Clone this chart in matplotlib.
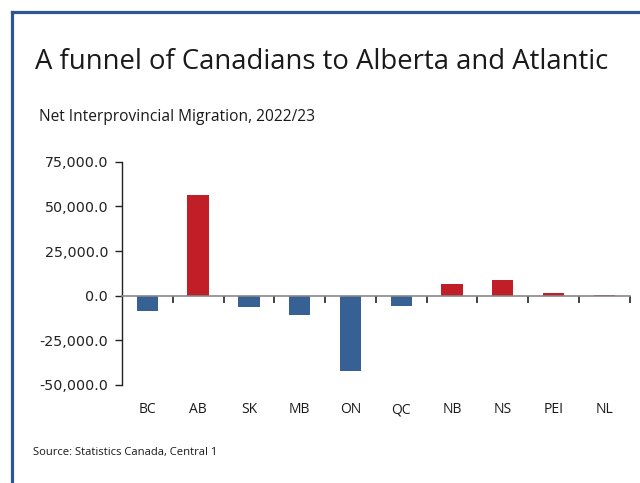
import matplotlib
matplotlib.use("Agg")
import matplotlib.pyplot as plt
from matplotlib.lines import Line2D

# Net interprovincial migration by province, 2022/23
provinces = ["BC", "AB", "SK", "MB", "ON", "QC", "NB", "NS", "PEI", "NL"]
net_migration = [-8400, 56300, -6600, -10700, -42200, -6000, 6800, 8500, 1500, 400]
y_ticks = [-50000, -25000, 0, 25000, 50000, 75000]

BLUE = "#376194"
RED = "#C01F28"
FRAME = "#2F5592"

fig = plt.figure(figsize=(6.4, 4.83), dpi=100)

# Frame lines on the top and left edges
fig.add_artist(Line2D([0.0195, 0.0195], [0, 0.9755], transform=fig.transFigure,
                      color=FRAME, lw=2.3, solid_capstyle="projecting"))
fig.add_artist(Line2D([0.0195, 1.0], [0.9755, 0.9755], transform=fig.transFigure,
                      color=FRAME, lw=2.3, solid_capstyle="projecting"))

fig.text(0.054, 0.872, "A funnel of Canadians to Alberta and Atlantic",
         fontsize=19.8, family="Open Sans", color="#1a1a1a", va="center", ha="left")
fig.text(0.061, 0.757, "Net Interprovincial Migration, 2022/23",
         fontsize=11.2, family="Open Sans", color="#1a1a1a", va="center", ha="left")
fig.text(0.052, 0.064, "Source: Statistics Canada, Central 1",
         fontsize=8.1, family="Open Sans", color="#1a1a1a", va="center", ha="left")

ax = fig.add_axes([0.1906, 0.2029, 0.7934, 0.4623])

x = list(range(len(provinces)))
colors = [RED if v > 0 else BLUE for v in net_migration]
ax.bar(x, net_migration, width=0.42, color=colors, zorder=2)

ax.set_xlim(-0.5, len(provinces) - 0.5)
ax.set_ylim(-50000, 75000)

ax.spines["top"].set_visible(False)
ax.spines["right"].set_visible(False)
ax.spines["left"].set_color("#222222")
ax.spines["left"].set_linewidth(1.0)
ax.spines["bottom"].set_position(("data", 0))
ax.spines["bottom"].set_color("#888888")
ax.spines["bottom"].set_linewidth(1.2)
ax.spines["bottom"].set_zorder(3)

ax.set_yticks(y_ticks)
ax.set_yticklabels([f"{v:,.1f}" for v in y_ticks])
ax.tick_params(axis="y", direction="out", length=5, width=1, color="#222222",
               labelsize=10.3, labelcolor="#222222", pad=5)

# Category boundary ticks on the zero line
ax.set_xticks([i + 0.5 for i in x])
ax.set_xticklabels([])
ax.tick_params(axis="x", direction="out", length=5, width=1.2, color="#222222")

for xi, name in zip(x, provinces):
    ax.text(xi, -0.11, name, transform=ax.get_xaxis_transform(),
            ha="center", va="center", fontsize=10, family="Open Sans", color="#1a1a1a")

fig.savefig("out.png", dpi=100)
